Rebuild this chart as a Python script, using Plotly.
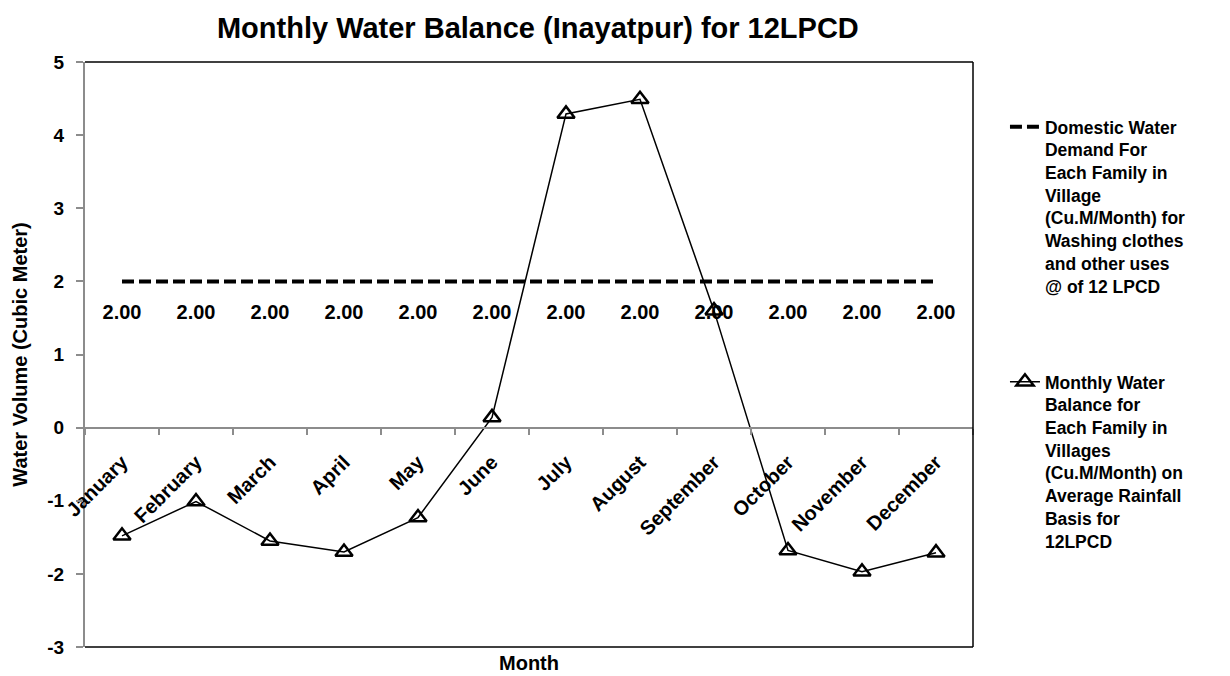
import plotly.graph_objects as go

# Chart data
months = ["January", "February", "March", "April", "May", "June",
          "July", "August", "September", "October", "November", "December"]
demand = [2.00, 2.00, 2.00, 2.00, 2.00, 2.00, 2.00, 2.00, 2.00, 2.00, 2.00, 2.00]
balance = [-1.48, -1.01, -1.55, -1.70, -1.23, 0.14, 4.29, 4.49, 1.60, -1.68, -1.97, -1.71]
y_ticks = [-3, -2, -1, 0, 1, 2, 3, 4, 5]

demand_name = ("Domestic Water<br>Demand For<br>Each Family in<br>Village<br>"
               "(Cu.M/Month) for<br>Washing clothes<br>and other uses<br>@ of 12 LPCD")
balance_name = ("Monthly Water<br>Balance for<br>Each Family in<br>Villages<br>"
                "(Cu.M/Month) on<br>Average Rainfall<br>Basis for<br>12LPCD")

FONT = "Liberation Sans, Arial, sans-serif"
Y_MIN, Y_MAX = -3, 5

fig = go.Figure()

# Demand: dashed line with value labels under each month
fig.add_trace(go.Scatter(
    x=months, y=demand, name=demand_name, legendgroup="demand",
    mode="lines+markers+text",
    line=dict(color="black", width=4, dash="12px,5px"),
    marker=dict(size=34, color="rgba(0,0,0,0)", line=dict(width=0)),
    text=[f"{v:.2f}" for v in demand],
    textposition="bottom center",
    textfont=dict(family=FONT, size=20, color="black", weight="bold"),
    hoverinfo="x+y",
))

# Monthly balance: thin line with open triangles
fig.add_trace(go.Scatter(
    x=months, y=balance, name=balance_name, legendgroup="balance",
    mode="lines+markers",
    line=dict(color="black", width=1.5),
    marker=dict(symbol="triangle-up-open", size=15, color="black",
                line=dict(color="black", width=2.5)),
))

zero_pos = (0 - Y_MIN) / (Y_MAX - Y_MIN)

fig.update_layout(
    width=1230, height=676,
    margin=dict(l=85, r=257, t=62, b=29),
    paper_bgcolor="white", plot_bgcolor="white",
    font=dict(family=FONT, color="black"),
    title=dict(text="Monthly Water Balance (Inayatpur) for 12LPCD",
               font=dict(family=FONT, size=29, color="black", weight="bold"),
               x=0.51, xref="paper", xanchor="center",
               y=1 - 28 / 676, yref="container", yanchor="middle"),
    xaxis=dict(
        type="category", range=[-0.5, 11.5],
        anchor="free", position=zero_pos,
        showline=True, linecolor="#8c8c8c", linewidth=2,
        ticks="outside", tickson="boundaries", ticklen=6,
        tickcolor="#8c8c8c", tickwidth=2,
        tickangle=-45, ticklabelstandoff=14,
        tickfont=dict(family=FONT, size=20, color="black", weight="bold"),
        showgrid=False, zeroline=False,
    ),
    yaxis=dict(
        range=[Y_MIN, Y_MAX], tickmode="array",
        tickvals=y_ticks, ticktext=[str(v) for v in y_ticks],
        showline=True, linecolor="#8c8c8c", linewidth=2,
        ticks="outside", ticklen=7, tickcolor="#8c8c8c", tickwidth=2,
        ticklabelstandoff=8,
        tickfont=dict(family=FONT, size=19, color="black", weight="bold"),
        showgrid=False, zeroline=False,
        title=dict(text="Water Volume (Cubic Meter)", standoff=14,
                   font=dict(family=FONT, size=20, color="black", weight="bold")),
    ),
    legend=dict(
        x=1.036, xanchor="left", y=0.92, yanchor="top",
        valign="top", tracegroupgap=70,
        font=dict(family=FONT, size=17.5, color="black", weight="bold"),
        bgcolor="rgba(0,0,0,0)", borderwidth=0,
    ),
    showlegend=True,
)

# Plot area frame (top, right, bottom)
for x0, y0, x1, y1 in [(0, 1, 1, 1), (1, 0, 1, 1), (0, 0, 1, 0)]:
    fig.add_shape(type="line", xref="paper", yref="paper",
                  x0=x0, y0=y0, x1=x1, y1=y1,
                  line=dict(color="black", width=1.5), layer="above")

fig.add_annotation(text="Month", xref="paper", yref="paper",
                   x=0.5, y=-16 / 585, xanchor="center", yanchor="middle",
                   showarrow=False,
                   font=dict(family=FONT, size=20, color="black", weight="bold"))

fig.write_html("out.html")
